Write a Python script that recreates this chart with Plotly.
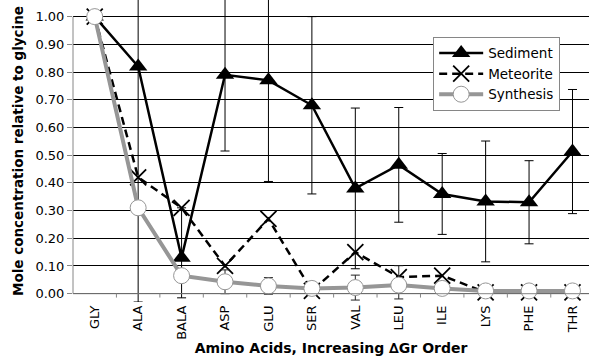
import plotly.graph_objects as go

# Amino acids ordered by increasing ΔGr
amino_acids = ["GLY", "ALA", "BALA", "ASP", "GLU", "SER", "VAL", "LEU", "ILE", "LYS", "PHE", "THR"]

# Mole concentration relative to glycine
sediment = [1.00, 0.82, 0.13, 0.79, 0.77, 0.68, 0.38, 0.465, 0.36, 0.333, 0.33, 0.513]
sediment_err_plus = [0.0, 0.85, 0.18, 0.275, 0.365, 0.32, 0.29, 0.207, 0.146, 0.218, 0.15, 0.224]
sediment_err_minus = [0.0, 0.85, 0.145, 0.275, 0.365, 0.32, 0.29, 0.207, 0.146, 0.218, 0.15, 0.224]

meteorite = [1.00, 0.42, 0.31, 0.10, 0.27, 0.01, 0.15, 0.06, 0.065, 0.005, 0.005, 0.005]

synthesis = [1.00, 0.31, 0.065, 0.043, 0.028, 0.019, 0.022, 0.031, 0.019, 0.01, 0.01, 0.01]
synthesis_err_plus = [0.0, 0.0, 0.0, 0.043, 0.03, 0.0, 0.045, 0.07, 0.0, 0.0, 0.0, 0.0]
synthesis_err_minus = [0.0, 0.0, 0.0, 0.043, 0.03, 0.0, 0.045, 0.05, 0.0, 0.0, 0.0, 0.0]

y_ticks = [0.0, 0.1, 0.2, 0.3, 0.4, 0.5, 0.6, 0.7, 0.8, 0.9, 1.0]

FONT = "DejaVu Sans"
AXIS_GRAY = "#868686"

fig = go.Figure()

fig.add_trace(go.Scatter(
    x=amino_acids, y=sediment, name="Sediment", mode="lines+markers",
    line=dict(color="black", width=2.5),
    marker=dict(symbol="triangle-up", size=16, color="black"),
    error_y=dict(type="data", symmetric=False, array=sediment_err_plus,
                 arrayminus=sediment_err_minus, color="black", thickness=1, width=4.5),
))

fig.add_trace(go.Scatter(
    x=amino_acids, y=meteorite, name="Meteorite", mode="lines+markers",
    line=dict(color="black", width=2.5, dash="8px,5px"),
    marker=dict(symbol="x-thin-open", size=16, color="black", line=dict(color="black", width=1.8)),
))

fig.add_trace(go.Scatter(
    x=amino_acids, y=synthesis, name="Synthesis", mode="lines+markers",
    line=dict(color="#969696", width=4),
    marker=dict(symbol="circle", size=16, color="white", line=dict(color="#969696", width=1)),
    error_y=dict(type="data", symmetric=False, array=synthesis_err_plus,
                 arrayminus=synthesis_err_minus, color="#222222", thickness=1, width=4.5),
))

# Axis lines and category boundary ticks
shapes = [
    dict(type="line", xref="paper", yref="y", x0=0, x1=0, y0=0, y1=1.0,
         line=dict(color=AXIS_GRAY, width=1), layer="above"),
    dict(type="line", xref="paper", yref="y", x0=0, x1=1, y0=0, y1=0,
         line=dict(color=AXIS_GRAY, width=1), layer="above"),
]
for i in range(len(amino_acids)):
    shapes.append(dict(type="line", xref="x", yref="y", x0=i + 0.5, x1=i + 0.5,
                       y0=0, y1=-0.014, line=dict(color=AXIS_GRAY, width=1), layer="above"))
fig.update_layout(shapes=shapes)

fig.update_layout(
    width=589, height=360,
    margin=dict(l=73, r=0, t=0, b=58),
    plot_bgcolor="white", paper_bgcolor="white",
    font=dict(family=FONT, size=13, color="black"),
    showlegend=True,
    legend=dict(
        x=0.698, y=0.878, xanchor="left", yanchor="top",
        bgcolor="white", bordercolor=AXIS_GRAY, borderwidth=1,
        font=dict(family=FONT, size=13.5, color="black"),
        tracegroupgap=0, itemwidth=44,
    ),
    xaxis=dict(
        type="category", categoryorder="array", categoryarray=amino_acids,
        range=[-0.5, 11.38], showgrid=False, showline=False, zeroline=False,
        tickangle=-90, ticks="", tickfont=dict(family=FONT, size=13),
        title=dict(text="<b>Amino Acids, Increasing ∆Gr Order</b>",
                   font=dict(family=FONT, size=14), standoff=4),
    ),
    yaxis=dict(
        range=[-0.03, 1.06], tickvals=y_ticks, ticktext=[f"{v:.2f}" for v in y_ticks],
        showgrid=True, gridcolor="black", gridwidth=1,
        showline=False, zeroline=False,
        ticks="outside", ticklen=5, tickcolor=AXIS_GRAY,
        tickfont=dict(family=FONT, size=13),
        title=dict(text="<b>Mole concentration relative to glycine</b>",
                   font=dict(family=FONT, size=13.5), standoff=8),
    ),
)

fig.write_html("out.html")
